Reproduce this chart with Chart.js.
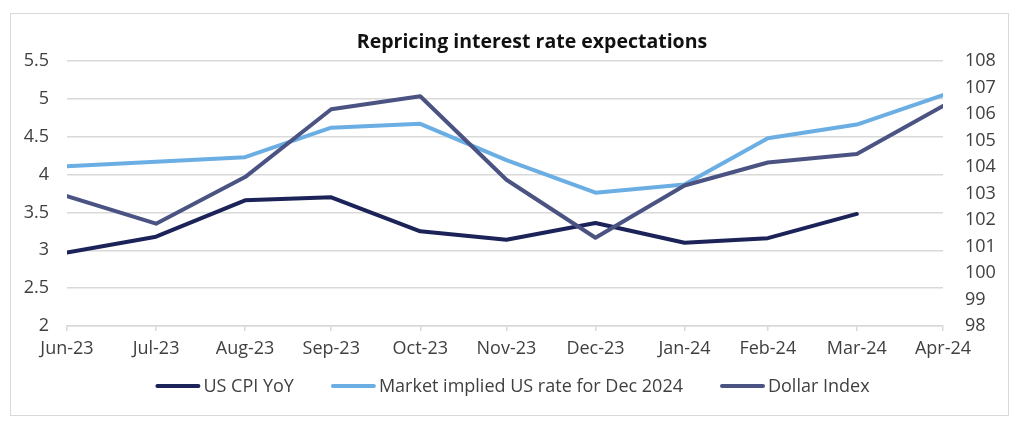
<!DOCTYPE html>
<html>
<head>
<meta charset="utf-8">
<script src="https://cdn.jsdelivr.net/npm/chart.js@4.4.1/dist/chart.umd.min.js"></script>
<style>
  html, body { margin: 0; padding: 0; background: #ffffff; }
  #wrap { position: relative; width: 1024px; height: 426px; }
  #frame { position: absolute; left: 10px; top: 13px; width: 999px; height: 403px; border: 1px solid #d9d9d9; box-sizing: border-box; }
  canvas { position: absolute; left: 0; top: 0; }
</style>
</head>
<body>
<div id="wrap">
  <div id="frame"></div>
  <canvas id="c" width="1024" height="426"></canvas>
</div>
<script>
// ---- data ----
const chartTitle = 'Repricing interest rate expectations';
const dates = ['2023-06-30','2023-07-31','2023-08-31','2023-09-30','2023-10-31','2023-11-30','2023-12-31','2024-01-31','2024-02-29','2024-03-31','2024-04-30'];
const monthLabels = ['Jun-23','Jul-23','Aug-23','Sep-23','Oct-23','Nov-23','Dec-23','Jan-24','Feb-24','Mar-24','Apr-24'];
const cpiYoY = [2.97, 3.18, 3.66, 3.70, 3.25, 3.14, 3.36, 3.10, 3.16, 3.48, null];
const marketImplied = [4.11, 4.17, 4.23, 4.62, 4.67, 4.19, 3.76, 3.87, 4.48, 4.66, 5.05];
const dollarIndex = [102.90, 101.86, 103.62, 106.18, 106.67, 103.52, 101.33, 103.30, 104.17, 104.49, 106.30];
const leftTicks = [2, 2.5, 3, 3.5, 4, 4.5, 5, 5.5];
const rightTicks = [98, 99, 100, 101, 102, 103, 104, 105, 106, 107, 108];
const seriesNames = ['US CPI YoY', 'Market implied US rate for Dec 2024', 'Dollar Index'];
const seriesColors = ['#1b2358', '#6aaee4', '#4a5382'];

// day offsets from first date
const base = Date.parse(dates[0] + 'T00:00:00Z');
const dayOffsets = dates.map(d => Math.round((Date.parse(d + 'T00:00:00Z') - base) / 86400000));
const pts = arr => arr.map((v, i) => ({ x: dayOffsets[i], y: v }));

const FONT = '"Open Sans", "Noto Sans", sans-serif';
const TXT = '#404040';

const titlePlugin = {
  id: 'customTitle',
  afterDraw(chart) {
    const ctx = chart.ctx;
    ctx.save();
    ctx.font = 'bold 19.5px ' + FONT;
    ctx.fillStyle = '#111111';
    ctx.textAlign = 'center';
    ctx.textBaseline = 'middle';
    ctx.fillText(chartTitle, 532, 42);
    ctx.restore();
  }
};

const legendPlugin = {
  id: 'customLegend',
  afterDraw(chart) {
    const ctx = chart.ctx;
    ctx.save();
    ctx.font = '18px ' + FONT;
    const lineW = 45, gap = 3, itemGap = 37;
    const items = chart.data.datasets.map(ds => ({ text: ds.label, color: ds.borderColor, w: ctx.measureText(ds.label).width }));
    let total = 0;
    items.forEach((it, i) => { total += lineW + gap + it.w + (i < items.length - 1 ? itemGap : 0); });
    let x = 512.5 - total / 2;
    const y = 386;
    items.forEach(it => {
      ctx.strokeStyle = it.color;
      ctx.lineWidth = 4;
      ctx.lineCap = 'round';
      ctx.beginPath();
      ctx.moveTo(x + 2, y);
      ctx.lineTo(x + lineW - 2, y);
      ctx.stroke();
      ctx.fillStyle = TXT;
      ctx.textAlign = 'left';
      ctx.textBaseline = 'middle';
      ctx.fillText(it.text, x + lineW + gap, y + 1);
      x += lineW + gap + it.w + itemGap;
    });
    ctx.restore();
  }
};

new Chart(document.getElementById('c'), {
  type: 'line',
  data: {
    datasets: [
      { label: seriesNames[0], data: pts(cpiYoY), borderColor: seriesColors[0], backgroundColor: seriesColors[0], yAxisID: 'y', order: 3 },
      { label: seriesNames[1], data: pts(marketImplied), borderColor: seriesColors[1], backgroundColor: seriesColors[1], yAxisID: 'y', order: 2 },
      { label: seriesNames[2], data: pts(dollarIndex), borderColor: seriesColors[2], backgroundColor: seriesColors[2], yAxisID: 'y1', order: 1 }
    ]
  },
  options: {
    responsive: false,
    animation: false,
    devicePixelRatio: 1,
    spanGaps: false,
    elements: {
      line: { tension: 0, borderWidth: 4, borderCapStyle: 'round', borderJoinStyle: 'round' },
      point: { radius: 0, hoverRadius: 0 }
    },
    layout: { padding: { top: 61, bottom: 0, left: 0, right: 0 } },
    plugins: { legend: { display: false }, title: { display: false }, tooltip: { enabled: false } },
    scales: {
      x: {
        type: 'linear',
        min: dayOffsets[0],
        max: dayOffsets[dayOffsets.length - 1],
        afterBuildTicks(scale) { scale.ticks = dayOffsets.map(v => ({ value: v })); },
        afterFit(scale) { scale.height = 100; },
        ticks: {
          autoSkip: false, maxRotation: 0, minRotation: 0, padding: 7,
          color: TXT, font: { family: FONT, size: 18 },
          callback(v, i) { return monthLabels[i]; }
        },
        grid: { drawOnChartArea: false, drawTicks: true, tickLength: 5, color: '#d9d9d9', lineWidth: 1.5 },
        border: { display: true, color: '#d9d9d9', width: 1.5 }
      },
      y: {
        position: 'left',
        min: leftTicks[0], max: leftTicks[leftTicks.length - 1],
        afterBuildTicks(scale) { scale.ticks = leftTicks.map(v => ({ value: v })); },
        afterFit(scale) { scale.width = 67; },
        ticks: { padding: 18, color: TXT, font: { family: FONT, size: 18 }, callback: v => String(v) },
        grid: { drawTicks: false, color: '#d9d9d9', lineWidth: 1.5 },
        border: { display: false }
      },
      y1: {
        position: 'right',
        min: rightTicks[0], max: rightTicks[rightTicks.length - 1],
        afterBuildTicks(scale) { scale.ticks = rightTicks.map(v => ({ value: v })); },
        afterFit(scale) { scale.width = 81; },
        ticks: { padding: 22, color: TXT, font: { family: FONT, size: 18 }, callback: v => String(v) },
        grid: { display: false, drawTicks: false },
        border: { display: false }
      }
    }
  },
  plugins: [titlePlugin, legendPlugin]
});
</script>
</body>
</html>
